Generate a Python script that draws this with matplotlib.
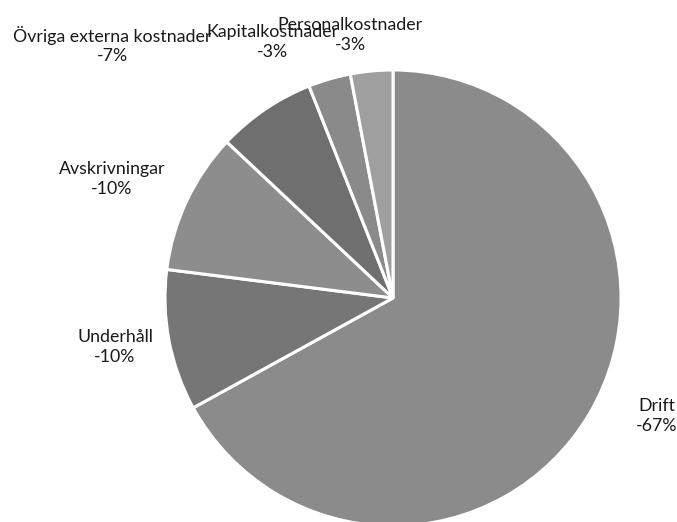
import matplotlib.pyplot as plt

# Kostnadsfördelning (andel av totala kostnader)
labels = ['Drift', 'Underhåll', 'Avskrivningar', 'Övriga externa kostnader',
          'Kapitalkostnader', 'Personalkostnader']
shares = [67, 10, 10, 7, 3, 3]
pct_text = ['-67%', '-10%', '-10%', '-7%', '-3%', '-3%']
colors = ['#8b8b8b', '#767676', '#8d8d8d', '#6f6f6f', '#8a8a8a', '#9f9f9f']

W, H = 677, 522
fig = plt.figure(figsize=(W / 100, H / 100), dpi=100)
ax = fig.add_axes([0, 0, 1, 1])

ax.pie(shares, colors=colors, startangle=90, counterclock=False,
       center=(393, H - 298), radius=228, frame=True,
       wedgeprops=dict(edgecolor='white', linewidth=2.2))
ax.set_xlim(0, W)
ax.set_ylim(0, H)
ax.axis('off')

# label positions (pixel, top-left origin) - same overlap as in the original
label_pos = [(657, 416), (115, 347), (112, 179), (112, 45), (272, 42), (350, 35)]
for name, pct, (x, y) in zip(labels, pct_text, label_pos):
    ax.text(x, H - y, name + '\n' + pct, ha='center', va='center',
            fontsize=12.8, family=['Lato', 'DejaVu Sans'], color='#1a1a1a',
            linespacing=1.25)

fig.savefig('out.png', dpi=100)
